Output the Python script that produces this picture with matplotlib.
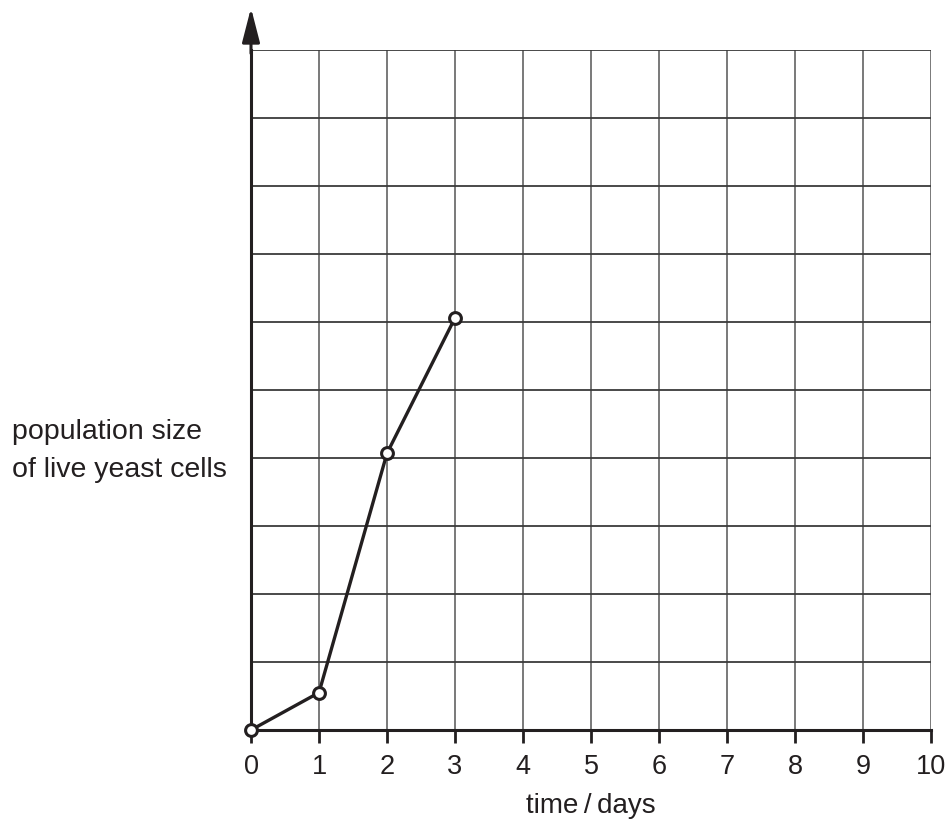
import matplotlib
matplotlib.use("Agg")
import matplotlib.pyplot as plt

plt.rcParams['font.family'] = ['Liberation Sans', 'DejaVu Sans']

days = [0, 1, 2, 3]
population = [0.0, 0.55, 4.07, 6.06]
x_ticks = list(range(0, 11))
x_label = "time\u2009/\u2009days"
y_label_lines = ["population size", "of live yeast cells"]

fig = plt.figure(figsize=(9.51, 8.25), dpi=100)
ax = fig.add_axes([251/951, 95/825, 680/951, 680/825])
ax.set_xlim(0, 10)
ax.set_ylim(0, 10)

# grid
for v in range(1, 11):
    ax.axvline(v, color='#6e6e6e', lw=1.3, zorder=1)
for h in range(1, 11):
    ax.axhline(h, color='#3a3a3a', lw=1.3, zorder=1)

for s in ['top', 'right']:
    ax.spines[s].set_visible(False)
for s in ['left', 'bottom']:
    ax.spines[s].set_linewidth(2.2)
    ax.spines[s].set_color('#231f20')

ax.set_xticks(x_ticks)
ax.set_xticklabels([str(t) for t in x_ticks], fontsize=19.5, color='#231f20')
ax.tick_params(axis='x', length=9, width=2, color='#231f20', pad=8)
ax.set_yticks([])

# arrow on y axis
ax.annotate('', xy=(0, 10.62), xytext=(0, 9.95),
            arrowprops=dict(arrowstyle='-|>,head_length=1.05,head_width=0.27',
                            mutation_scale=20,
                            color='#231f20', lw=2.2, shrinkA=0, shrinkB=0),
            annotation_clip=False)

ax.plot(days, population, color='#231f20', lw=2.4, marker='o', ms=8.5,
        mfc='white', mec='#231f20', mew=2.2, zorder=5, clip_on=False)

fig.text(591/951, 1 - 806/825, x_label, ha='center', va='center', fontsize=20, color='#231f20')
fig.text(12/951, 1 - 432/825, y_label_lines[0], ha='left', va='center', fontsize=20.5, color='#231f20')
fig.text(12/951, 1 - 470/825, y_label_lines[1], ha='left', va='center', fontsize=20.5, color='#231f20')

fig.savefig('out.png', dpi=100)
